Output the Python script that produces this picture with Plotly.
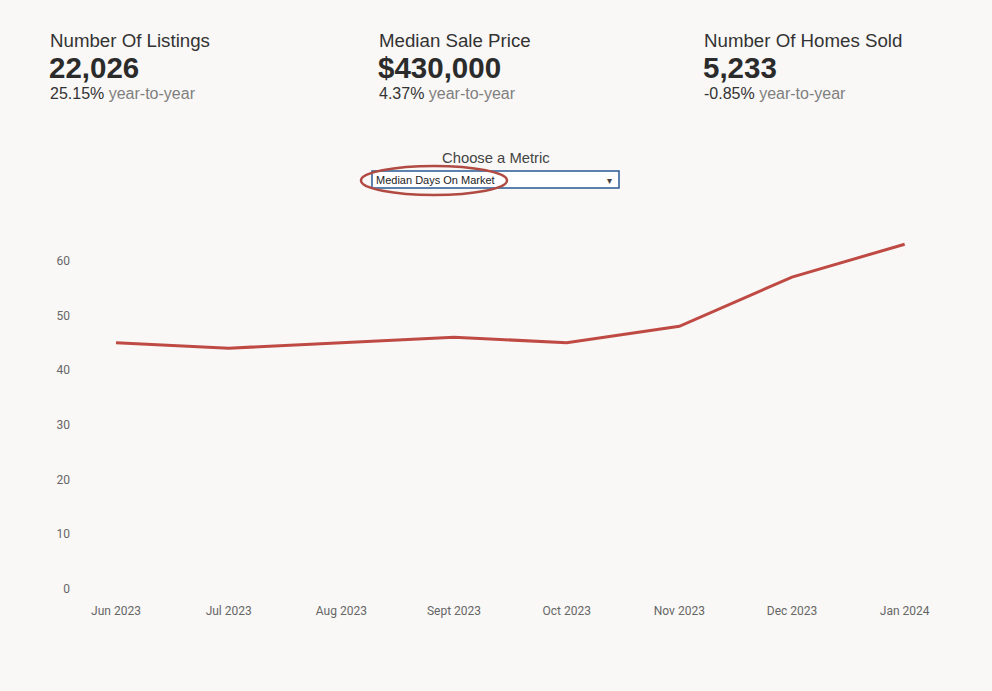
import plotly.graph_objects as go

months = ["Jun 2023", "Jul 2023", "Aug 2023", "Sept 2023", "Oct 2023", "Nov 2023", "Dec 2023", "Jan 2024"]
median_days = [45, 44, 45, 46, 45, 48, 57, 63]
y_ticks = [0, 10, 20, 30, 40, 50, 60]

kpi_titles = ["Number Of Listings", "Median Sale Price", "Number Of Homes Sold"]
kpi_values = ["22,026", "$430,000", "5,233"]
kpi_changes = ["25.15%", "4.37%", "-0.85%"]
kpi_x_px = [48, 377, 702]

W, H = 992, 691
BG = "#f9f8f6"
LINE = "#bf4a44"

fig = go.Figure()
fig.add_trace(go.Scatter(
    x=list(range(len(months))), y=median_days, mode="lines",
    line=dict(color=LINE, width=3), hoverinfo="skip", showlegend=False))

plot_left, plot_right, plot_top, plot_bottom = 75, 961, 230, 598
fig.update_layout(
    width=W, height=H,
    paper_bgcolor=BG, plot_bgcolor=BG,
    margin=dict(l=plot_left, r=W - plot_right, t=plot_top, b=H - plot_bottom),
    font=dict(family="Liberation Sans, Arial, sans-serif", color="#333"),
    xaxis=dict(range=[-0.364, 7.5], tickmode="array", tickvals=list(range(len(months))),
               ticktext=months, showgrid=False, zeroline=False, showline=False,
               tickfont=dict(family="Liberation Sans Narrow, Roboto, sans-serif", size=12, color="#666"),
               ticks="", ticklabelstandoff=4),
    yaxis=dict(range=[-1.65, 65.6], tickmode="array", tickvals=y_ticks,
               showgrid=False, zeroline=False, showline=False,
               tickfont=dict(family="Liberation Sans Narrow, Roboto, sans-serif", size=12, color="#666"),
               ticks="", ticklabelstandoff=4),
)

def to_paper_x(p):
    return (p - plot_left) / (plot_right - plot_left)
def to_paper_y(p):
    return (plot_bottom - p) / (plot_bottom - plot_top)

anns = []
for t, v, c, xp in zip(kpi_titles, kpi_values, kpi_changes, kpi_x_px):
    anns.append(dict(text=t, x=to_paper_x(xp), y=to_paper_y(40), xanchor="left", yanchor="middle",
                     font=dict(size=18.7, color="#333")))
    anns.append(dict(text="<b>" + v + "</b>", x=to_paper_x(xp - 1), y=to_paper_y(68), xanchor="left", yanchor="middle",
                     font=dict(size=29.5, color="#2b2b2b")))
    anns.append(dict(text=c + " <span style='color:#7f7f7f'>year-to-year</span>", x=to_paper_x(xp), y=to_paper_y(94),
                     xanchor="left", yanchor="middle", font=dict(size=16, color="#333")))

anns.append(dict(text="Choose a Metric", x=to_paper_x(496), y=to_paper_y(158), xanchor="center", yanchor="middle",
                 font=dict(size=14.8, color="#444")))
anns.append(dict(text="Median Days On Market", x=to_paper_x(374), y=to_paper_y(180), xanchor="left", yanchor="middle",
                 font=dict(size=11, color="#222")))
anns.append(dict(text="▾", x=to_paper_x(609), y=to_paper_y(180), xanchor="center", yanchor="middle",
                 font=dict(size=10, color="#444")))
for a in anns:
    a.update(xref="paper", yref="paper", showarrow=False)

shapes = [
    dict(type="rect", xref="paper", yref="paper",
         x0=to_paper_x(372), x1=to_paper_x(619), y0=to_paper_y(188), y1=to_paper_y(171),
         line=dict(color="#2a5a95", width=1.5), fillcolor="white", layer="below"),
    dict(type="circle", xref="paper", yref="paper",
         x0=to_paper_x(361), x1=to_paper_x(507), y0=to_paper_y(195), y1=to_paper_y(166),
         line=dict(color="#b04a42", width=2.5), layer="above"),
]
fig.update_layout(annotations=anns, shapes=shapes)
fig.write_html("out.html")
